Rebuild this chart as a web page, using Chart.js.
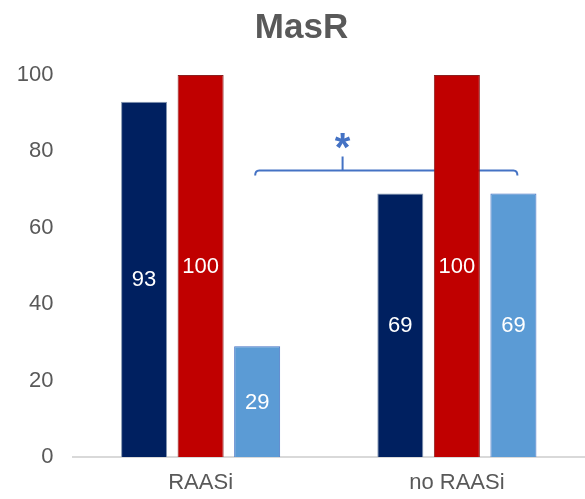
<!DOCTYPE html>
<html>
<head>
	<meta charset="utf-8">
	<title>MasR</title>
	<script src="https://cdn.jsdelivr.net/npm/chart.js@4.4.0/dist/chart.umd.min.js"></script>
	<style>
		html, body {
			margin: 0;
			padding: 0;
			background: white;
		}
		#wrap {
			width: 585px;
			height: 499px;
		}
	</style>
</head>
<body>
<div id="wrap"><canvas id="myChart"></canvas></div>
<script>
	const categories = ["RAASi", "no RAASi"]
	const seriesA = [93, 69]
	const seriesB = [100, 100]
	const seriesC = [29, 69]
	const yTicks = [0, 20, 40, 60, 80, 100]
	// bracket between the two light blue bars, at this y value
	const bracketValue = 75
	const bracketText = "*"

	const textColor = "#595959"
	const font = "'Liberation Sans', Arial, sans-serif"

	const barLabels = {
		id: "barLabels",
		afterDatasetsDraw(chart) {
			const ctx = chart.ctx
			ctx.save()
			ctx.fillStyle = "white"
			ctx.font = "22px " + font
			ctx.textAlign = "center"
			ctx.textBaseline = "middle"
			chart.data.datasets.forEach((ds, i) => {
				chart.getDatasetMeta(i).data.forEach((bar, j) => {
					ctx.fillText(ds.data[j], bar.x, (bar.y + bar.base) / 2 + 1)
				})
			})
			ctx.restore()
		}
	}

	const bracket = {
		id: "bracket",
		beforeDatasetsDraw(chart) {
			const ctx = chart.ctx
			const bars = chart.getDatasetMeta(2).data
			const x1 = bars[0].x - 2
			const x2 = bars[1].x + 4
			const y = chart.scales.y.getPixelForValue(bracketValue)
			const xm = x1 + (x2 - x1) / 3
			ctx.save()
			ctx.strokeStyle = "#4472C4"
			ctx.lineWidth = 2
			ctx.lineJoin = "round"
			ctx.beginPath()
			ctx.moveTo(x1, y + 5)
			ctx.quadraticCurveTo(x1, y, x1 + 4, y)
			ctx.lineTo(x2 - 4, y)
			ctx.quadraticCurveTo(x2, y, x2, y + 5)
			ctx.moveTo(xm, y)
			ctx.lineTo(xm, y - 14)
			ctx.stroke()
			ctx.fillStyle = "#4472C4"
			ctx.font = "bold 40px " + font
			ctx.textAlign = "center"
			ctx.textBaseline = "alphabetic"
			ctx.fillText(bracketText, xm, y - 10)
			ctx.restore()
		}
	}

	const ctx = document.getElementById("myChart").getContext("2d")
	const myChart = new Chart(ctx, {
		type: "bar",
		data: {
			labels: categories,
			datasets: [
				{data: seriesA, backgroundColor: "#002060", borderColor: "#8497b0", borderWidth: 1},
				{data: seriesB, backgroundColor: "#C00000", borderColor: "#8b2020", borderWidth: 1},
				{data: seriesC, backgroundColor: "#5B9BD5", borderColor: "#4472C4", borderWidth: 1}
			]
		},
		options: {
			responsive: true,
			maintainAspectRatio: false,
			animation: false,
			categoryPercentage: 0.662,
			barPercentage: 0.814,
			layout: {
				padding: {left: 18, right: 0, top: 0, bottom: 4}
			},
			plugins: {
				legend: {display: false},
				tooltip: {enabled: false},
				title: {
					display: true,
					text: "MasR",
					color: textColor,
					font: {family: font, size: 35, weight: "bold"},
					padding: {top: 7, bottom: 26}
				}
			},
			scales: {
				x: {
					grid: {display: false, drawTicks: false},
					border: {display: true, color: "#d9d9d9", width: 2},
					ticks: {color: textColor, font: {family: font, size: 22}, padding: 13},
					afterFit: axis => { axis.height = 38 }
				},
				y: {
					min: 0,
					max: 100,
					afterBuildTicks: axis => {
						axis.ticks = yTicks.map(v => ({value: v}))
					},
					grid: {display: false, drawTicks: false},
					border: {display: false},
					ticks: {color: textColor, font: {family: font, size: 22}, padding: 19},
					afterFit: axis => { axis.width = 54.5 }
				}
			}
		},
		plugins: [bracket, barLabels]
	})
</script>
</body>
</html>
